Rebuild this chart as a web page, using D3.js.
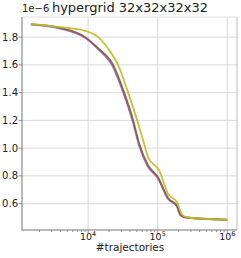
<!DOCTYPE html>
<html lang="en">
<head>
<meta charset="utf-8">
<title>hypergrid 32x32x32x32</title>
<script src="https://cdn.jsdelivr.net/npm/d3@7"></script>
<style>
  body { margin: 0; background: #fff; }
  text { font-family: "DejaVu Sans", sans-serif; fill: #222; }
</style>
</head>
<body>
<script>
// #trajectories (x) and values in units of 1e-6 (y), one pair of arrays per run
var yellowX = [1500, 3950, 9060, 13900, 19500, 26900, 37600, 50700, 64700, 73000, 105000, 141000, 190000, 225000, 265000, 1000000];
var yellowY = [1.894, 1.872, 1.845, 1.80, 1.715, 1.60, 1.40, 1.20, 1.02, 0.932, 0.84, 0.67, 0.61, 0.52, 0.50, 0.484];
var brownX  = [1500, 3950, 9060, 13900, 22900, 33000, 44400, 54100, 73000, 101000, 141000, 190000, 214000, 265000, 1000000];
var brownY  = [1.893, 1.866, 1.80, 1.72, 1.60, 1.40, 1.20, 1.034, 0.875, 0.79, 0.64, 0.585, 0.52, 0.50, 0.484];
var purpleX = [1500, 3950, 9060, 13900, 22500, 32500, 43800, 53500, 72000, 100000, 140000, 188000, 212000, 265000, 1000000];
var purpleY = [1.890, 1.862, 1.795, 1.713, 1.59, 1.39, 1.19, 1.025, 0.868, 0.785, 0.635, 0.58, 0.515, 0.497, 0.483];
var yTicks = [0.6, 0.8, 1.0, 1.2, 1.4, 1.6, 1.8];
var xTicks = [1e4, 1e5, 1e6];
var xTickLabels = ["4", "5", "6"];

var width = 241, height = 258;
var mLeft = 22, mRight = 237, mTop = 17, mBottom = 230;

var svg = d3.select("body").append("svg")
    .attr("width", width).attr("height", height);

var x = d3.scaleLog().domain([1120, 1.38e6]).range([mLeft, mRight]);
var y = d3.scaleLinear().domain([0.41, 1.945]).range([mBottom, mTop]);

// grid
svg.append("g").selectAll("line").data(yTicks).enter().append("line")
    .attr("x1", mLeft).attr("x2", mRight)
    .attr("y1", function(d) { return y(d); }).attr("y2", function(d) { return y(d); })
    .attr("stroke", "#d9d9d9").attr("stroke-width", 1);
svg.append("g").selectAll("line").data(xTicks).enter().append("line")
    .attr("y1", mTop).attr("y2", mBottom)
    .attr("x1", function(d) { return x(d); }).attr("x2", function(d) { return x(d); })
    .attr("stroke", "#d9d9d9").attr("stroke-width", 1);

// lines
var series = [
  { xs: purpleX, ys: purpleY, color: "#9467bd" },
  { xs: brownX, ys: brownY, color: "#8c564b" },
  { xs: yellowX, ys: yellowY, color: "#bcbd22" }
];
svg.append("g").selectAll("path").data(series).enter().append("path")
    .attr("d", function(s) {
      return d3.line()
        .x(function(d, i) { return x(s.xs[i]); })
        .y(function(d) { return y(d); })
        .curve(d3.curveMonotoneX)(s.ys);
    })
    .attr("fill", "none")
    .attr("stroke", function(d) { return d.color; })
    .attr("stroke-width", 1.8)
    .attr("stroke-opacity", 0.9);

// spines
svg.append("line").attr("x1", mLeft).attr("x2", mRight).attr("y1", mTop).attr("y2", mTop)
    .attr("stroke", "#e0e0e0");
svg.append("line").attr("x1", mRight).attr("x2", mRight).attr("y1", mTop).attr("y2", mBottom)
    .attr("stroke", "#bbbbbb");
svg.append("line").attr("x1", mLeft).attr("x2", mLeft).attr("y1", mTop).attr("y2", mBottom + 0.5)
    .attr("stroke", "#777");
svg.append("line").attr("x1", mLeft).attr("x2", mRight).attr("y1", mBottom).attr("y2", mBottom)
    .attr("stroke", "#777");

// minor ticks on log axis
var minor = [];
[1e3, 1e4, 1e5, 1e6].forEach(function(dec) {
  for (var k = 2; k < 10; k++) {
    var v = dec * k;
    if (v > x.domain()[0] && v < x.domain()[1]) minor.push(v);
  }
});
svg.append("g").selectAll("line").data(minor).enter().append("line")
    .attr("x1", function(d) { return x(d); }).attr("x2", function(d) { return x(d); })
    .attr("y1", mBottom).attr("y2", mBottom + 2)
    .attr("stroke", "#777").attr("stroke-width", 0.8);
svg.append("g").selectAll("line").data(xTicks).enter().append("line")
    .attr("x1", function(d) { return x(d); }).attr("x2", function(d) { return x(d); })
    .attr("y1", mBottom).attr("y2", mBottom + 3.5)
    .attr("stroke", "#777").attr("stroke-width", 0.8);

// y ticks and labels
svg.append("g").selectAll("line").data(yTicks).enter().append("line")
    .attr("x1", mLeft - 3.5).attr("x2", mLeft)
    .attr("y1", function(d) { return y(d); }).attr("y2", function(d) { return y(d); })
    .attr("stroke", "#777").attr("stroke-width", 0.8);
svg.append("g").selectAll("text").data(yTicks).enter().append("text")
    .attr("x", mLeft - 4).attr("y", function(d) { return y(d); })
    .attr("dy", "0.35em").attr("text-anchor", "end")
    .attr("font-size", 10)
    .text(function(d) { return d.toFixed(1); });

// x tick labels: 10^n
var xl = svg.append("g").selectAll("text").data(xTicks).enter().append("text")
    .attr("x", function(d) { return x(d); }).attr("y", mBottom + 10)
    .attr("text-anchor", "middle").attr("font-size", 9.5);
xl.append("tspan").text("10");
xl.append("tspan").attr("dy", -4).attr("font-size", 6.5)
    .text(function(d, i) { return xTickLabels[i]; });

// offset text, title, axis label
svg.append("text").attr("x", 22).attr("y", 12).attr("font-size", 10).text("1e\u22126");
svg.append("text").attr("x", 130).attr("y", 12).attr("text-anchor", "middle")
    .attr("font-size", 13).text("hypergrid 32x32x32x32");
svg.append("text").attr("x", 130).attr("y", 251).attr("text-anchor", "middle")
    .attr("font-size", 10.5).text("#trajectories");
</script>
</body>
</html>
